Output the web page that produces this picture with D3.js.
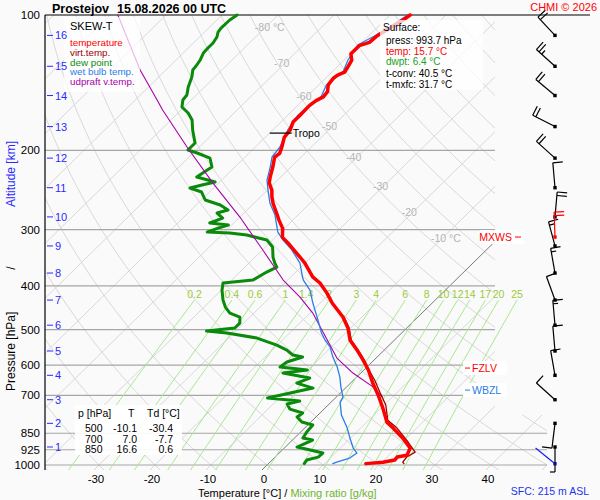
<!DOCTYPE html>
<html><head><meta charset="utf-8">
<script src="https://cdn.jsdelivr.net/npm/d3@7"></script>
<style>
html,body{margin:0;padding:0;background:#fafafa;}
svg{display:block;font-family:"Liberation Sans",Arial,Helvetica,sans-serif;}
</style></head><body>
<svg id="chart" width="600" height="500"></svg>
<script>
// ---------------- data ----------------
const stationName = "Prostejov";
const runLabel = "15.08.2026 00 UTC";

const pressureTicks = [100,200,300,400,500,600,700,850,925,1000];
const tempTicks = [-30,-20,-10,0,10,20,30,40];
const kmLabels = [1,2,3,4,5,6,7,8,9,10,11,12,13,14,15,16];
const kmP = [912,808,716,632,558,489,430,374.5,326,281,242,208,177,151,130,111];

const mixRatios = [0.2,0.4,0.6,1,1.4,2,3,4,6,8,10,12,14,17,20,25];
const isoLabelT = [-80,-70,-60,-50,-40,-30,-20,-10];
const isoLabelP = [106.3,127.8,151.4,176.3,206.9,239.5,274.4,313.8];
const isoLabelText = ["-80 °C","-70","-60","-50","-40","-30","-20","-10 °C"];

const tempP = [100,103,107,111,115,117,122,126,131,134,136,138,143,148,152,155,159,167,173,180,187,197,203,207,218,229,236,245,254,262,276,286,298,312,321,330,345,356,382,394,415,437,469,496,528,555,584,615,658,699,747,803,828,871,917,951,960,975,986,993];
const tempT = [-56.4,-56.8,-57.6,-58.5,-58.7,-59.9,-59.9,-58.6,-58.0,-57.7,-58.4,-58.6,-58.3,-57.2,-57.0,-57.6,-57.9,-57.8,-57.8,-56.9,-56.6,-55.2,-54.5,-54.7,-53.2,-51.9,-51.0,-49.2,-47.9,-46.6,-44.1,-42.4,-40.3,-38.7,-36.7,-34.9,-32.0,-30.0,-26.1,-23.7,-20.6,-17.8,-13.4,-10.5,-7.9,-4.9,-2.0,0.8,4.0,7.1,10.3,13.6,15.8,19.3,22.5,23.2,21.8,21.9,20.2,17.4];

const virtP = [469,496,528,555,584,615,648,689,736,795,828,889,936,960,985,993];
const virtT = [-13.2,-10.3,-7.7,-4.7,-1.8,0.9,3.8,6.9,10.3,13.4,16.5,21.0,24.1,23.5,23.7,24.2];

const dewP = [100,102.6,106.9,109.1,111.9,115.4,118.4,121.5,125.9,129.2,132.5,137.3,144.6,150.6,154.5,160.1,165.1,171.2,180.1,192.5,199.5,202.6,207.9,217.7,221.0,229.1,235.1,238.7,242.4,247.4,257.7,264.4,271.3,275.5,282.6,289.9,292.9,297.5,303.6,305.2,308.3,316.3,327.8,345.1,355.8,363.2,372.6,388.1,394.1,408.5,430.0,445.7,459.6,469.1,483.7,496.2,503.9,509.1,522.3,541.3,555.3,569.7,575.6,590.5,605.8,615.2,624.7,641.0,657.6,674.6,710.0,721.0,732.1,751.1,766.6,782.5,802.7,815.2,845.0,871.2,880.2,912.3,926.4,940.8,960.3,975.1,993];
const dewT = [-87.3,-87.7,-87.8,-87.6,-86.9,-86.5,-86.5,-86.4,-85.7,-85.4,-85.2,-84.1,-82.9,-81.7,-81.5,-80.4,-78.2,-76.2,-74.3,-71.5,-71.5,-69.3,-66.1,-64.1,-64.4,-65.0,-60.8,-62.6,-64.2,-61.4,-59.3,-55.7,-53.4,-54.8,-52.9,-54.3,-50.6,-51.9,-53.1,-48.9,-45.5,-41.0,-38.7,-36.8,-35.4,-34.3,-35.2,-36.2,-41.0,-39.9,-37.9,-36.2,-34.3,-31.8,-30.7,-30.7,-35.2,-31.2,-24.9,-20.1,-17.4,-15.4,-13.3,-15.2,-15.5,-10.1,-13.9,-8.2,-9.6,-5.8,-12.1,-5.8,-7.5,-6.1,-3.1,-3.35,-1.6,0.9,1.1,1.5,3.6,2.1,5.0,7.8,7.7,6.2,6.4];

const wetP = [100,110.8,116.6,125.9,133.9,143.1,152.1,166.8,180.1,196.5,206.8,217.7,232.7,244.9,261.7,278.3,303.6,316.3,332.9,355.8,382.2,388.1,408.5,436.7,476.3,509.1,527.6,547.0,575.6,605.8,637.7,671.2,706.4,724.7,774.6,827.8,871.2,917.0,940.8,965.2,985.1,993];
const wetT = [-56.8,-58.8,-60.3,-59.3,-58.0,-58.6,-57.4,-58.2,-57.3,-55.6,-55.2,-53.7,-51.9,-49.9,-47.2,-44.1,-40.5,-38.1,-34.7,-30.9,-27.9,-27.2,-24.2,-21.3,-17.3,-14.3,-12.4,-10.2,-7.9,-5.3,-3.0,-1.0,1.2,1.6,4.2,7.6,9.9,12.3,13.9,13.5,11.9,11.5];

const parcelP = [100,132.5,154.5,162.6,196.5,236.3,281.2,332.9,388.1,423.4,459.6,527.6,578.5,624.7,671.2,706.4];
const parcelT = [-108.6,-94.6,-86.1,-83.3,-72.2,-61.0,-50.0,-39.9,-30.8,-24.7,-19.5,-12.0,-7.0,-1.4,4.8,8.2];

const windP   = [993.7,912,808,716,632,558,489,430,374.5,326,281,242,208,177,151,130,111];
const windDir = [309,180,187,312,350,355,355,340,350,345,5,355,312,297,310,312,317];
const windSpd = [2,5,10,10,10,10,15,10,15,15,20,10,20,20,20,25,20];
const maxWind = {p:311.5, dir:358, spd:20};

const tropoP = 183, tropoT = -58;
const levelNames = ["MXWS","FZLV","WBZL"];
const levelP = [311.5,609,681.5];

const tableP = [500,700,850];
const tableT = ["-10.1","7.0","16.6"];
const tableTd = ["-30.4","-7.7","0.6"];

const surfaceLines = ["press: 993.7 hPa","temp: 15.7 °C","dwpt: 6.4 °C","t-conv: 40.5 °C","t-mxfc: 31.7 °C"];

// ---------------- scales ----------------
const RED="#ff0000", DRED="#a00000", GREEN="#0a8a0a", BLUE="#2b7de9", PURPLE="#a800a8", KMBLUE="#2a2aff";
const svg = d3.select("#chart");
svg.append("rect").attr("width",600).attr("height",500).attr("fill","#fafafa");

const yS = d3.scaleLog().domain([100,1000]).range([15,465]);
const tS = d3.scaleLinear().domain([0,10]).range([267,323]);
const SKEW = 1.02, Y0 = yS(1000);
const X = (T,p) => tS(T) + SKEW*(Y0 - yS(p));
const pBot = yS.invert(470);
const line = d3.line().x(d=>X(d[1],d[0])).y(d=>yS(d[0])).curve(d3.curveLinear);
const zip = (a,b) => a.map((v,i)=>[v,b[i]]);

const defs = svg.append("defs");
defs.append("clipPath").attr("id","gclip").append("path").attr("d","M45,15H495V415H547V470H45Z");

// ---------------- grid ----------------
const grid = svg.append("g").attr("clip-path","url(#gclip)");
const isoT = d3.range(-170,60,10);
grid.selectAll("line.iso").data(isoT.filter(t=>t!==0)).join("line")
  .attr("x1",t=>X(t,pBot)).attr("y1",yS(pBot)).attr("x2",t=>X(t,100)).attr("y2",yS(100))
  .attr("stroke","#d8d8d8").attr("stroke-width",1);
const pSamples = d3.range(0,41).map(i=>pBot*Math.pow(100/pBot,i/40));
grid.selectAll("path.ad").data(d3.range(-40,210,10)).join("path")
  .attr("d",t0=>line(pSamples.map(p=>[p,(t0+273.15)*Math.pow(p/1000,0.2857)-273.15])))
  .attr("fill","none").attr("stroke","#d8d8d8").attr("stroke-width",1);
grid.append("line").attr("x1",X(0,pBot)).attr("y1",yS(pBot)).attr("x2",X(0,100)).attr("y2",yS(100))
  .attr("stroke","#7a7a7a").attr("stroke-width",1);

// pressure lines
svg.selectAll("line.pl").data(pressureTicks.filter(p=>p>100)).join("line")
  .attr("x1",45).attr("x2",p=>p>=850?547:495).attr("y1",p=>yS(p)).attr("y2",p=>yS(p))
  .attr("stroke","#a6a6a6").attr("stroke-width",1.2);
svg.append("line").attr("x1",45).attr("x2",590).attr("y1",yS(100)).attr("y2",yS(100)).attr("stroke","#000").attr("stroke-width",1.2);
svg.append("line").attr("x1",45).attr("x2",45).attr("y1",15).attr("y2",470).attr("stroke","#000").attr("stroke-width",1.2);

// mixing ratio lines
const tdFromW = (w,p)=>{const e=w*p/(622+w);const l=Math.log(e/6.112);return 243.5*l/(17.67-l);};
const mixSamples = d3.range(0,21).map(i=>pBot*Math.pow(430/pBot,i/20));
svg.selectAll("path.mr").data(mixRatios).join("path")
  .attr("d",w=>line(mixSamples.map(p=>[p,tdFromW(w,p)])))
  .attr("fill","none").attr("stroke","#a9e88e").attr("stroke-width",1);
svg.selectAll("text.mr").data(mixRatios).join("text")
  .attr("x",w=>X(tdFromW(w,430),430)).attr("y",yS(417)+3.5)
  .attr("text-anchor","middle").attr("font-size",10.5).attr("fill","#9acb3a").text(w=>String(w));

// isotherm labels
svg.selectAll("text.il").data(isoLabelT).join("text")
  .attr("x",(t,i)=>X(t,isoLabelP[i])-11).attr("y",(t,i)=>yS(isoLabelP[i])+4)
  .attr("font-size",10.5).attr("fill","#b4b4b4").text((t,i)=>isoLabelText[i]);

// table box
svg.append("rect").attr("x",75).attr("y",405).attr("width",107).attr("height",50).attr("fill","#fff").attr("opacity",0.9);

// ---------------- curves ----------------
const curves = svg.append("g").attr("fill","none").attr("stroke-linejoin","round").attr("stroke-linecap","round");
curves.append("path").attr("d",line(zip(dewP,dewT))).attr("stroke",GREEN).attr("stroke-width",3);
curves.append("path").attr("d",line(zip(parcelP,parcelT))).attr("stroke",PURPLE).attr("stroke-width",1.1);
curves.append("path").attr("d",line(zip(wetP,wetT))).attr("stroke",BLUE).attr("stroke-width",1.3);
curves.append("path").attr("d",line(zip(virtP,virtT))).attr("stroke",DRED).attr("stroke-width",1.3);
curves.append("path").attr("d",line(zip(tempP,tempT))).attr("stroke",RED).attr("stroke-width",3.5);

// tropopause
const tx = X(tropoT,tropoP), ty = yS(tropoP);
svg.append("line").attr("x1",tx-11).attr("x2",tx+11).attr("y1",ty).attr("y2",ty).attr("stroke","#000").attr("stroke-width",1.2);
svg.append("text").attr("x",tx+12).attr("y",ty+4).attr("font-size",10.5).text("Tropo");

// ---------------- wind barbs ----------------
const wg = svg.append("g");
function barb(p,dir,spd,color){
  const x0=555, y0=yS(p), L=25, r=dir*Math.PI/180;
  const ux=Math.sin(r), uy=-Math.cos(r);
  const ex=x0+ux*L, ey=y0+uy*L;
  wg.append("line").attr("x1",x0).attr("y1",y0).attr("x2",ex).attr("y2",ey).attr("stroke",color).attr("stroke-width",1.2);
  const bx=-uy, by=ux;
  let full=Math.floor(spd/10), half=(spd%10)>=5?1:0, k=0;
  for(let i=0;i<full;i++,k++){
    const sx=ex-ux*k*3.5, sy=ey-uy*k*3.5;
    wg.append("line").attr("x1",sx).attr("y1",sy).attr("x2",sx+bx*10).attr("y2",sy+by*10).attr("stroke",color).attr("stroke-width",1.2);
  }
  if(half){
    const sx=ex-ux*k*3.5, sy=ey-uy*k*3.5;
    wg.append("line").attr("x1",sx).attr("y1",sy).attr("x2",sx+bx*5).attr("y2",sy+by*5).attr("stroke",color).attr("stroke-width",1.2);
  }
  wg.append("rect").attr("x",x0-1.7).attr("y",y0-1.7).attr("width",3.4).attr("height",3.4).attr("fill",color);
}
windP.forEach((p,i)=>barb(p,windDir[i],windSpd[i], i===0?"#1a1aee":"#000"));
barb(maxWind.p,maxWind.dir,maxWind.spd,RED);

// level labels
const lvColors=[RED,RED,BLUE];
levelNames.forEach((n,i)=>{
  const yy=yS(levelP[i]);
  if(i===0){
    svg.append("rect").attr("x",480).attr("y",yy-7).attr("width",44).attr("height",14).attr("fill","#fff");
    svg.append("text").attr("x",512).attr("y",yy+4).attr("text-anchor","end").attr("font-size",10.5).attr("fill",lvColors[i]).text(n);
    svg.append("line").attr("x1",515).attr("x2",521).attr("y1",yy).attr("y2",yy).attr("stroke",lvColors[i]);
  } else {
    svg.append("rect").attr("x",463).attr("y",yy-7).attr("width",44).attr("height",14).attr("fill","#fff");
    svg.append("line").attr("x1",465).attr("x2",470).attr("y1",yy).attr("y2",yy).attr("stroke",lvColors[i]);
    svg.append("text").attr("x",472).attr("y",yy+4).attr("font-size",10.5).attr("fill",lvColors[i]).text(n);
  }
});

// ---------------- boxes & texts ----------------
svg.append("rect").attr("x",64).attr("y",17).attr("width",76).attr("height",75).attr("fill","#fff").attr("opacity",0.72);
svg.append("rect").attr("x",380).attr("y",20).attr("width",103).attr("height",70).attr("fill","#fff").attr("opacity",0.75);

svg.append("text").attr("x",52).attr("y",12.5).attr("font-size",12.5).attr("font-weight","bold").text(stationName);
svg.append("text").attr("x",117).attr("y",12.5).attr("font-size",12.5).attr("font-weight","bold").text(runLabel);
svg.append("text").attr("x",597).attr("y",11).attr("text-anchor","end").attr("font-size",11).attr("fill",RED).text("CHMI © 2026");

// pressure ticks
svg.selectAll("text.pt").data(pressureTicks).join("text")
  .attr("x",40).attr("y",p=>yS(p)+4).attr("text-anchor","end").attr("font-size",11.5).text(p=>p);
// km ticks
svg.selectAll("line.km").data(kmP).join("line").attr("x1",47).attr("x2",53).attr("y1",p=>yS(p)).attr("y2",p=>yS(p)).attr("stroke",KMBLUE);
svg.selectAll("text.km").data(kmLabels).join("text")
  .attr("x",55).attr("y",(k,i)=>yS(kmP[i])+4).attr("font-size",11).attr("fill",KMBLUE).text(k=>k);
// temperature ticks
const pTick = yS.invert(468);
svg.selectAll("text.tt").data(tempTicks).join("text")
  .attr("x",t=>X(t,pTick)).attr("y",482.5).attr("text-anchor","middle").attr("font-size",11.5).text(t=>t);

// axis titles
const xt = svg.append("text").attr("x",198).attr("y",497).attr("font-size",11);
xt.append("tspan").text("Temperature [°C]  /  ");
xt.append("tspan").attr("fill","#6fb52c").text("Mixing ratio [g/kg]");
const yt = svg.append("g").attr("transform","translate(15,0)");
yt.append("text").attr("transform","translate(0,391) rotate(-90)").attr("font-size",12).text("Pressure [hPa]");
yt.append("text").attr("transform","translate(0,268) rotate(-90)").attr("text-anchor","middle").attr("font-size",12).text("/");
yt.append("text").attr("transform","translate(0,141) rotate(-90)").attr("text-anchor","end").attr("font-size",12).attr("fill",KMBLUE).text("Altitude [km]");
svg.append("text").attr("x",589).attr("y",495).attr("text-anchor","end").attr("font-size",10.5).attr("fill","#2233ee").text("SFC: 215 m ASL");

// legend
svg.append("text").attr("x",70).attr("y",30).attr("font-size",11).text("SKEW-T");
const legItems=[["temperature",RED],["virt.temp.",DRED],["dew point",GREEN],["wet bulb temp.",BLUE],["udpraft v.temp.",PURPLE]];
legItems.forEach((d,i)=>svg.append("text").attr("x",70).attr("y",46+i*9.8).attr("font-size",9.8).attr("fill",d[1]).text(d[0]));

// surface box text
svg.append("text").attr("x",383).attr("y",31).attr("font-size",10).text("Surface:");
const sfcColors=["#000",RED,"#22a022","#000","#000"];
const sfcY=[44,54.5,64.5,77,87.5];
surfaceLines.forEach((s,i)=>svg.append("text").attr("x",386).attr("y",sfcY[i]).attr("font-size",10).attr("fill",sfcColors[i]).text(s));

// table
const tb = svg.append("g").attr("font-size",10.5);
tb.append("text").attr("x",78).attr("y",417).text("p [hPa]");
tb.append("text").attr("x",128).attr("y",417).text("T");
tb.append("text").attr("x",147).attr("y",417).text("Td [°C]");
tableP.forEach((p,i)=>{
  const yy=432+i*10.5;
  tb.append("text").attr("x",85).attr("y",yy).text(p);
  tb.append("text").attr("x",137).attr("y",yy).attr("text-anchor","end").text(tableT[i]);
  tb.append("text").attr("x",173).attr("y",yy).attr("text-anchor","end").text(tableTd[i]);
});
</script>
</body></html>
